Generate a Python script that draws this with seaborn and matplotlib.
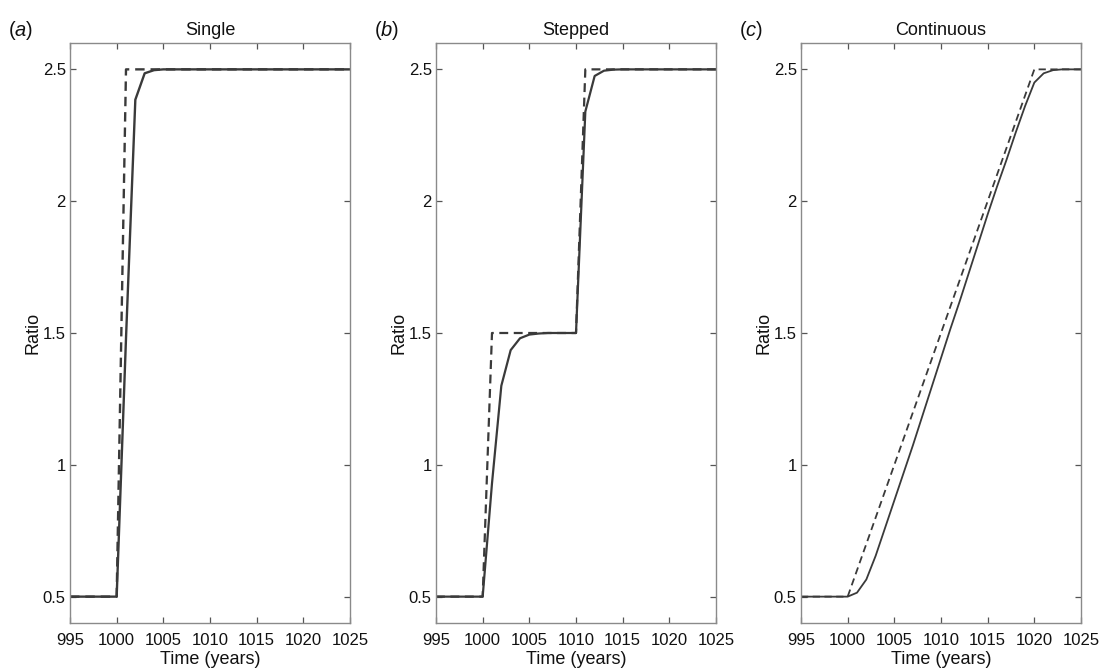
import matplotlib
matplotlib.use("Agg")
import matplotlib.pyplot as plt
import seaborn as sns
import pandas as pd

# ---------------- data ----------------
years = [995, 996, 997, 998, 999, 1000, 1001, 1002, 1003, 1004, 1005,
         1006, 1007, 1008, 1009, 1010, 1011, 1012, 1013, 1014, 1015,
         1016, 1017, 1018, 1019, 1020, 1021, 1022, 1023, 1024, 1025]

single_target = [0.5, 0.5, 0.5, 0.5, 0.5, 0.5, 2.5, 2.5, 2.5, 2.5, 2.5,
                 2.5, 2.5, 2.5, 2.5, 2.5, 2.5, 2.5, 2.5, 2.5, 2.5,
                 2.5, 2.5, 2.5, 2.5, 2.5, 2.5, 2.5, 2.5, 2.5, 2.5]
single_model = [0.5, 0.5, 0.5, 0.5, 0.5, 0.5, 1.48, 2.385, 2.485, 2.497, 2.5,
                2.5, 2.5, 2.5, 2.5, 2.5, 2.5, 2.5, 2.5, 2.5, 2.5,
                2.5, 2.5, 2.5, 2.5, 2.5, 2.5, 2.5, 2.5, 2.5, 2.5]

stepped_target = [0.5, 0.5, 0.5, 0.5, 0.5, 0.5, 1.5, 1.5, 1.5, 1.5, 1.5,
                  1.5, 1.5, 1.5, 1.5, 1.5, 2.5, 2.5, 2.5, 2.5, 2.5,
                  2.5, 2.5, 2.5, 2.5, 2.5, 2.5, 2.5, 2.5, 2.5, 2.5]
stepped_model = [0.5, 0.5, 0.5, 0.5, 0.5, 0.5, 0.93, 1.30, 1.435, 1.48, 1.494,
                 1.498, 1.5, 1.5, 1.5, 1.5, 2.34, 2.475, 2.495, 2.499, 2.5,
                 2.5, 2.5, 2.5, 2.5, 2.5, 2.5, 2.5, 2.5, 2.5, 2.5]

continuous_target = [0.5, 0.5, 0.5, 0.5, 0.5, 0.5, 0.6, 0.7, 0.8, 0.9, 1.0,
                     1.1, 1.2, 1.3, 1.4, 1.5, 1.6, 1.7, 1.8, 1.9, 2.0,
                     2.1, 2.2, 2.3, 2.4, 2.5, 2.5, 2.5, 2.5, 2.5, 2.5]
continuous_model = [0.5, 0.5, 0.5, 0.5, 0.5, 0.5, 0.515, 0.565, 0.655, 0.76, 0.865,
                    0.97, 1.075, 1.185, 1.295, 1.405, 1.515, 1.62, 1.73, 1.84, 1.95,
                    2.055, 2.155, 2.26, 2.36, 2.45, 2.485, 2.497, 2.5, 2.5, 2.5]

panel_titles = ["Single", "Stepped", "Continuous"]
panel_letters = ["a", "b", "c"]
x_ticks = [995, 1000, 1005, 1010, 1015, 1020, 1025]
y_ticks = [0.5, 1, 1.5, 2, 2.5]
y_tick_labels = ["0.5", "1", "1.5", "2", "2.5"]

# ---------------- style ----------------
sns.set_theme(style="ticks")
plt.rcParams["font.family"] = ["Liberation Sans", "DejaVu Sans"]
plt.rcParams["mathtext.fontset"] = "custom"
plt.rcParams["mathtext.rm"] = "Liberation Sans"
plt.rcParams["mathtext.it"] = "Liberation Sans:italic"

fs_tick = 12
fs_lab = 13
fig = plt.figure(figsize=(11, 6.71), dpi=100)
W, H = 1100, 671
lefts = [70, 436, 801]
ax_w = 280
ax_top, ax_bot = 43, 623

panels = [
    (single_target, single_model, 1.7),
    (stepped_target, stepped_model, 1.6),
    (continuous_target, continuous_model, 1.3),
]

for i, (tgt, mdl, lw) in enumerate(panels):
    ax = fig.add_axes([lefts[i] / W, 1 - ax_bot / H, ax_w / W, (ax_bot - ax_top) / H])
    df = pd.DataFrame({"year": years, "target": tgt, "model": mdl})
    sns.lineplot(data=df, x="year", y="model", ax=ax, color="#3a3a3a", lw=lw)
    sns.lineplot(data=df, x="year", y="target", ax=ax, color="#3a3a3a", lw=lw,
                 linestyle=(0, (4.0, 2.5)))
    ax.set_xlim(995, 1025)
    ax.set_ylim(0.4, 2.6)
    ax.set_xticks(x_ticks)
    ax.set_xticklabels([str(t) for t in x_ticks], fontsize=fs_tick)
    ax.set_yticks(y_ticks)
    ax.set_yticklabels(y_tick_labels, fontsize=fs_tick)
    ax.tick_params(direction="in", length=4, width=0.9, color="#555555",
                   top=True, right=True, labeltop=False, labelright=False, pad=7,
                   labelcolor="#111111")
    ax.tick_params(axis="y", pad=3)
    for sp in ax.spines.values():
        sp.set_visible(True)
        sp.set_color("#8a8a8a")
        sp.set_linewidth(1.0)
    ax.set_xlabel("Time (years)", fontsize=fs_lab, labelpad=2, color="#111111")
    ax.set_ylabel("Ratio", fontsize=fs_lab, labelpad=1, color="#111111")
    ax.set_title(panel_titles[i], fontsize=fs_lab, pad=6, color="#111111")
    fig.text((lefts[i] - 62) / W, 1 - 30 / H,
             r"($\mathit{" + panel_letters[i] + r"}$)",
             fontsize=fs_lab + 1.5, va="center", ha="left", color="#111111")

fig.savefig("out.png", dpi=100)
